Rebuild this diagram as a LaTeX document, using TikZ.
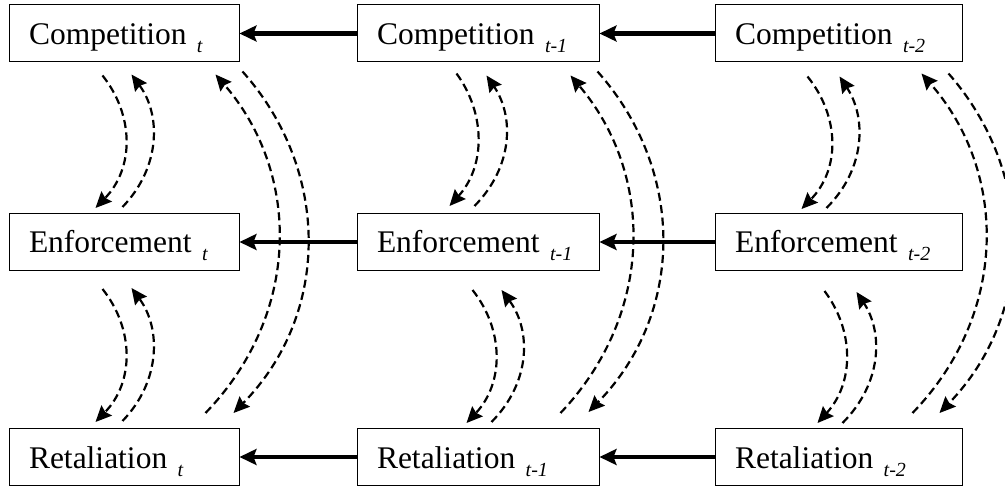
\documentclass[tikz,border=0pt]{standalone}
\usepackage{fontspec}
\setmainfont{Liberation Serif}
\usetikzlibrary{arrows.meta,calc}
\newcommand\tsub[1]{\raisebox{-8pt}{\fontsize{20}{20}\selectfont\itshape #1}}
\begin{document}
\begin{tikzpicture}[x=1pt,y=-1pt,
  stage/.style={draw, line width=1pt, text width=#1, align=left, inner xsep=20pt,
    inner ysep=0pt, minimum height=57pt, text height=22pt, text depth=0pt,
    font=\fontsize{31.5}{32}\selectfont},
  harrow/.style={line width=4.6pt, -{Stealth[length=17pt,width=16pt,inset=3pt]}},
  darrow/.style={line width=2.2pt, dash pattern=on 8pt off 4.5pt,
    -{Stealth[length=16pt,width=14.5pt,inset=2pt]}}]
\useasboundingbox (0,0) rectangle (1005,489);
\clip (0,0) rectangle (1005,489);
% nodes
\node[stage=190pt] (C1) at (124,33.5) {Competition~\tsub{t}};
\node[stage=202pt] (C2) at (478,33.5) {Competition~\tsub{t-1}};
\node[stage=207pt] (C3) at (838.5,33.5) {Competition~\tsub{t-2}};
\node[stage=190pt] (E1) at (124,242) {Enforcement~\tsub{t}};
\node[stage=202pt] (E2) at (478,242) {Enforcement~\tsub{t-1}};
\node[stage=207pt] (E3) at (838.5,242) {Enforcement~\tsub{t-2}};
\node[stage=190pt] (R1) at (124,457) {Retaliation~\tsub{t}};
\node[stage=202pt] (R2) at (478,457) {Retaliation~\tsub{t-1}};
\node[stage=207pt] (R3) at (838.5,457) {Retaliation~\tsub{t-2}};
% horizontal arrows
\draw[harrow] (C2.west) -- (C1.east);
\draw[harrow] (C3.west) -- (C2.east);
\draw[harrow] (E2.west) -- (E1.east);
\draw[harrow] (E3.west) -- (E2.east);
\draw[harrow] (R2.west) -- (R1.east);
\draw[harrow] (R3.west) -- (R2.east);
% column 1
\draw[darrow] ($(C1.south west)+(94,13)$) .. controls +(31.8,40) and +(38.8,-40) .. ($(E1.north west)+(87,-5)$);
\draw[darrow] ($(E1.north west)+(114,-6)$) .. controls +(38.5,-40) and +(29.5,40) .. ($(C1.south west)+(123,12)$);
\draw[darrow] ($(E1.south west)+(94,18)$) .. controls +(31.8,40) and +(38.8,-40) .. ($(R1.north west)+(87,-6)$);
\draw[darrow] ($(R1.north west)+(114,-7)$) .. controls +(38.5,-40) and +(29.5,40) .. ($(E1.south west)+(123,17)$);
\draw[darrow] ($(C1.south east)+(3,9)$) .. controls +(88.2,99) and +(97.2,-99) .. ($(R1.north east)+(-6,-15)$);
\draw[darrow] ($(R1.north east)+(-34,-15)$) .. controls +(95.7,-99) and +(85.7,99) .. ($(C1.south east)+(-24,12)$);
% column 2
\draw[darrow] ($(C2.south west)+(100,11)$) .. controls +(29.2,40) and +(36.2,-40) .. ($(E2.north west)+(93,-7)$);
\draw[darrow] ($(E2.north west)+(118,-7)$) .. controls +(39.3,-40) and +(27.3,40) .. ($(C2.south west)+(130,13)$);
\draw[darrow] ($(E2.south west)+(116,19)$) .. controls +(31.7,40) and +(37.7,-40) .. ($(R2.north west)+(110,-5)$);
\draw[darrow] ($(R2.north west)+(135,-6)$) .. controls +(39.7,-40) and +(29.7,40) .. ($(E2.south west)+(145,19)$);
\draw[darrow] ($(C2.south east)+(-2,9)$) .. controls +(88.1,99) and +(96.5,-99) .. ($(R2.north east)+(-11,-16)$);
\draw[darrow] ($(R2.north east)+(-39,-15)$) .. controls +(94,-99) and +(84,99) .. ($(C2.south east)+(-29,13)$);
% column 3
\draw[darrow] ($(C3.south west)+(93,14)$) .. controls +(32.3,40) and +(38.9,-40) .. ($(E3.north west)+(87,-4)$);
\draw[darrow] ($(E3.north west)+(112,-5)$) .. controls +(39.9,-40) and +(26.6,40) .. ($(C3.south west)+(125,14)$);
\draw[darrow] ($(E3.south west)+(110,20)$) .. controls +(30,40) and +(36.7,-40) .. ($(R3.north west)+(103,-5)$);
\draw[darrow] ($(R3.north west)+(128,-5)$) .. controls +(40,-40) and +(26.6,40) .. ($(E3.south west)+(142,21)$);
\draw[darrow] ($(C3.south east)+(-14,11)$) .. controls +(86.8,99) and +(95.8,-99) .. ($(R3.north east)+(-23,-15)$);
\draw[darrow] ($(R3.north east)+(-50,-15)$) .. controls +(95.8,-99) and +(86.8,99) .. ($(C3.south east)+(-41,11)$);
\end{tikzpicture}
\end{document}
